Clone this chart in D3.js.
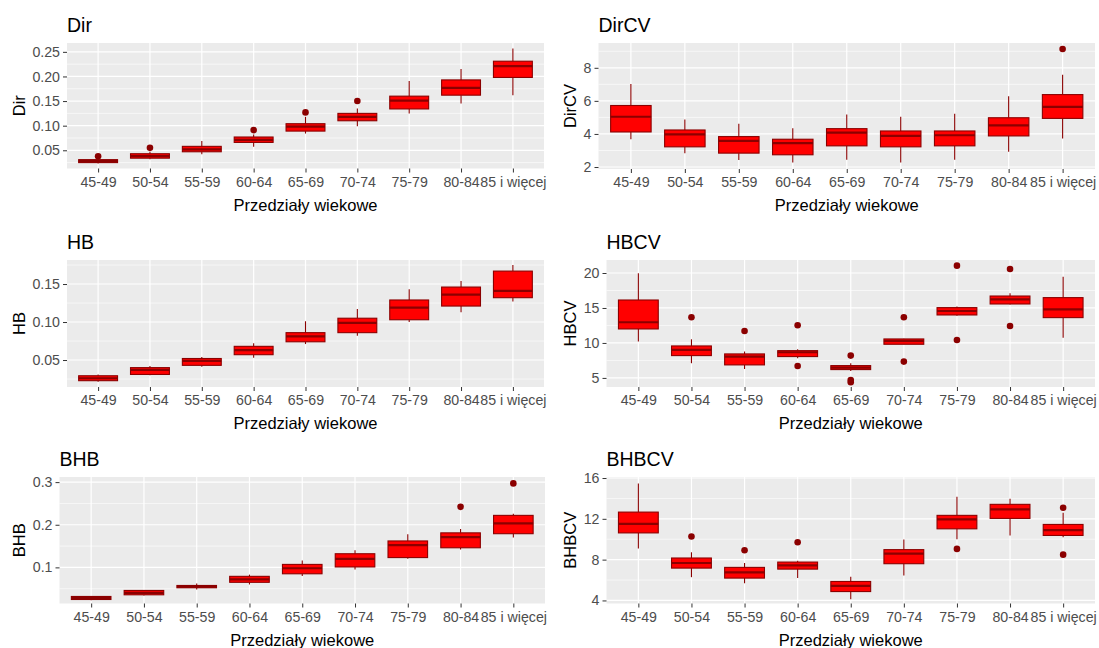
<!DOCTYPE html>
<html><head><meta charset="utf-8">
<script src="https://cdn.jsdelivr.net/npm/d3@7"></script>
<style>
body{margin:0;background:#fff}
text{font-family:"Liberation Sans",Arial,sans-serif}
</style>
</head><body>
<svg id="c" width="1099" height="648"></svg>
<script>
const categories = ["45-49","50-54","55-59","60-64","65-69","70-74","75-79","80-84","85 i więcej"];
const xTitle = "Przedziały wiekowe";

// [lower whisker, Q1, median, Q3, upper whisker]
const dirBoxes = [[0.023,0.025,0.028,0.031,0.034],[0.032,0.034,0.038,0.043,0.047],[0.042,0.047,0.052,0.058,0.069],[0.057,0.066,0.071,0.077,0.082],[0.084,0.089,0.098,0.104,0.118],[0.099,0.110,0.118,0.125,0.135],[0.125,0.134,0.151,0.160,0.191],[0.145,0.162,0.177,0.193,0.215],[0.162,0.198,0.221,0.231,0.257]];
const dirOutliers = [[0.038],[0.055],[],[0.091],[0.127],[0.150],[],[],[]];
const dirTicks = [0.05,0.10,0.15,0.20,0.25];

const dirCVBoxes = [[3.68,4.12,5.04,5.72,7.02],[2.84,3.22,3.98,4.24,4.88],[2.42,2.84,3.58,3.84,4.62],[2.28,2.74,3.44,3.68,4.34],[2.44,3.28,4.08,4.32,5.18],[2.28,3.22,3.88,4.18,5.04],[2.44,3.28,3.92,4.18,5.22],[2.92,3.88,4.52,4.98,6.28],[3.72,4.94,5.64,6.38,7.58]];
const dirCVOutliers = [[],[],[],[],[],[],[],[],[9.14]];
const dirCVTicks = [2,4,6,8];

const hbBoxes = [[0.0215,0.0228,0.026,0.0293,0.031],[0.030,0.031,0.037,0.040,0.042],[0.041,0.043,0.049,0.052,0.054],[0.053,0.057,0.063,0.068,0.072],[0.071,0.074,0.081,0.086,0.101],[0.082,0.086,0.099,0.105,0.117],[0.100,0.103,0.119,0.129,0.143],[0.113,0.121,0.136,0.146,0.154],[0.127,0.132,0.141,0.167,0.175]];
const hbOutliers = [[],[],[],[],[],[],[],[],[]];
const hbTicks = [0.05,0.10,0.15];

const hbCVBoxes = [[10.19,12.0,12.96,16.14,19.96],[7.1,8.19,9.0,9.57,10.52],[6.29,6.86,8.05,8.43,8.76],[7.8,8.05,8.67,8.9,9.1],[6.0,6.19,6.48,6.76,7.1],[9.8,9.81,10.29,10.57,10.6],[13.9,14.0,14.57,15.05,15.2],[15.5,15.57,16.24,16.71,17.1],[10.76,13.62,14.81,16.48,19.48]];
const hbCVOutliers = [[],[13.67],[11.71],[12.52,6.71],[8.19,4.71,4.38],[13.67,7.33],[21.05,10.43],[20.57,12.43],[]];
const hbCVTicks = [5,10,15,20];

const bhbBoxes = [[0.023,0.0247,0.028,0.0318,0.033],[0.034,0.0357,0.040,0.0459,0.047],[0.048,0.0522,0.055,0.0576,0.062],[0.060,0.065,0.072,0.079,0.083],[0.080,0.085,0.098,0.107,0.116],[0.095,0.101,0.120,0.132,0.140],[0.120,0.123,0.152,0.162,0.178],[0.142,0.146,0.171,0.181,0.190],[0.170,0.179,0.203,0.222,0.226]];
const bhbOutliers = [[],[],[],[],[],[],[],[0.242],[0.297]];
const bhbTicks = [0.1,0.2,0.3];

const bhbCVBoxes = [[9.08,10.62,11.51,12.66,15.46],[6.28,7.17,7.67,8.16,8.72],[5.69,6.19,6.75,7.24,7.67],[6.19,7.07,7.43,7.76,7.9],[4.11,4.87,5.43,5.86,6.32],[6.45,7.60,8.59,8.98,9.97],[10.0,11.02,11.94,12.34,14.17],[10.37,12.04,12.93,13.42,13.98],[10.2,10.37,10.89,11.45,12.6]];
const bhbCVOutliers = [[],[10.27],[8.92],[9.71],[],[],[9.05],[],[13.09,8.49]];
const bhbCVTicks = [4,8,12,16];

const panels = [
  {title:"Dir",   boxes:dirBoxes,   outliers:dirOutliers,   ticks:dirTicks,   fmt:".2f", domain:[0.013,0.268], rect:[67,43,544,168.5], ylab:25},
  {title:"DirCV", boxes:dirCVBoxes, outliers:dirCVOutliers, ticks:dirCVTicks, fmt:"d",   domain:[1.88,9.5],    rect:[598.5,43,1095,169], ylab:576},
  {title:"HB",    boxes:hbBoxes,    outliers:hbOutliers,    ticks:hbTicks,    fmt:".2f", domain:[0.0145,0.1816], rect:[67,260,544,387], ylab:25},
  {title:"HBCV",  boxes:hbCVBoxes,  outliers:hbCVOutliers,  ticks:hbCVTicks,  fmt:"d",   domain:[3.7,21.86],   rect:[606.5,260,1095,387], ylab:576},
  {title:"BHB",   boxes:bhbBoxes,   outliers:bhbOutliers,   ticks:bhbTicks,   fmt:".1f", domain:[0.0153,0.312], rect:[59.5,477,545,603.5], ylab:25},
  {title:"BHBCV", boxes:bhbCVBoxes, outliers:bhbCVOutliers, ticks:bhbCVTicks, fmt:"d",   domain:[3.7,16.1],    rect:[606.5,477,1095,603.5], ylab:576}
];

const svg = d3.select("#c");
svg.append("rect").attr("width",1099).attr("height",648).attr("fill","#fff");

const FILL = "#FF0000", LINE = "#8B0000";

panels.forEach(p => {
  const [x0,y0,x1,y1] = p.rect;
  const x = d3.scalePoint().domain(categories).range([x0,x1]).padding(0.6);
  const y = d3.scaleLinear().domain(p.domain).range([y1,y0]);
  const g = svg.append("g");

  g.append("rect").attr("x",x0).attr("y",y0).attr("width",x1-x0).attr("height",y1-y0).attr("fill","#EBEBEB");

  // minor grid
  const step = p.ticks[1]-p.ticks[0];
  const minor = [];
  for (let v = p.ticks[0]-step/2; v <= p.domain[1]; v += step) if (v >= p.domain[0]) minor.push(v);
  g.selectAll(".mn").data(minor).enter().append("line")
    .attr("x1",x0).attr("x2",x1).attr("y1",d=>y(d)).attr("y2",d=>y(d))
    .attr("stroke","#fff").attr("stroke-width",0.6);
  // major grid
  g.selectAll(".mj").data(p.ticks).enter().append("line")
    .attr("x1",x0).attr("x2",x1).attr("y1",d=>y(d)).attr("y2",d=>y(d))
    .attr("stroke","#fff").attr("stroke-width",1.2);
  g.selectAll(".vx").data(categories).enter().append("line")
    .attr("x1",d=>x(d)).attr("x2",d=>x(d)).attr("y1",y0).attr("y2",y1)
    .attr("stroke","#fff").attr("stroke-width",1.2);

  // axes
  const yAxis = g.append("g").attr("transform",`translate(${x0},0)`)
    .call(d3.axisLeft(y).tickValues(p.ticks).tickFormat(d3.format(p.fmt)).tickSize(4).tickPadding(3));
  const xAxis = g.append("g").attr("transform",`translate(0,${y1})`)
    .call(d3.axisBottom(x).tickSize(4).tickPadding(4));
  [yAxis,xAxis].forEach(a => {
    a.select(".domain").remove();
    a.selectAll(".tick line").attr("stroke","#333").attr("stroke-width",1);
    a.selectAll(".tick text").attr("fill","#4D4D4D").style("font-size","14.2px")
      .style("font-family",'"Liberation Sans",Arial,sans-serif');
  });

  // boxes
  const bw = x.step()*0.75;
  p.boxes.forEach((b,i) => {
    const cx = x(categories[i]);
    const [lo,q1,med,q3,hi] = b;
    g.append("line").attr("x1",cx).attr("x2",cx).attr("y1",y(hi)).attr("y2",y(q3)).attr("stroke",LINE).attr("stroke-width",1.1);
    g.append("line").attr("x1",cx).attr("x2",cx).attr("y1",y(q1)).attr("y2",y(lo)).attr("stroke",LINE).attr("stroke-width",1.1);
    g.append("rect").attr("x",cx-bw/2).attr("width",bw).attr("y",y(q3)).attr("height",Math.max(0.5,y(q1)-y(q3)))
      .attr("fill",FILL).attr("stroke",LINE).attr("stroke-width",1.1);
    g.append("line").attr("x1",cx-bw/2).attr("x2",cx+bw/2).attr("y1",y(med)).attr("y2",y(med)).attr("stroke",LINE).attr("stroke-width",2.2);
    p.outliers[i].forEach(o => {
      g.append("circle").attr("cx",cx).attr("cy",y(o)).attr("r",3.3).attr("fill",LINE);
    });
  });

  // titles
  g.append("text").attr("x",x0).attr("y",y0-11).text(p.title).attr("fill","#000").style("font-size","19.5px");
  g.append("text").attr("transform",`translate(${p.ylab},${(y0+y1)/2}) rotate(-90)`).attr("text-anchor","middle")
    .text(p.title).attr("fill","#000").style("font-size","16.5px");
  g.append("text").attr("x",(x0+x1)/2).attr("y",y1+42).attr("text-anchor","middle")
    .text(xTitle).attr("fill","#000").style("font-size","16.5px");
});
</script>
</body></html>
